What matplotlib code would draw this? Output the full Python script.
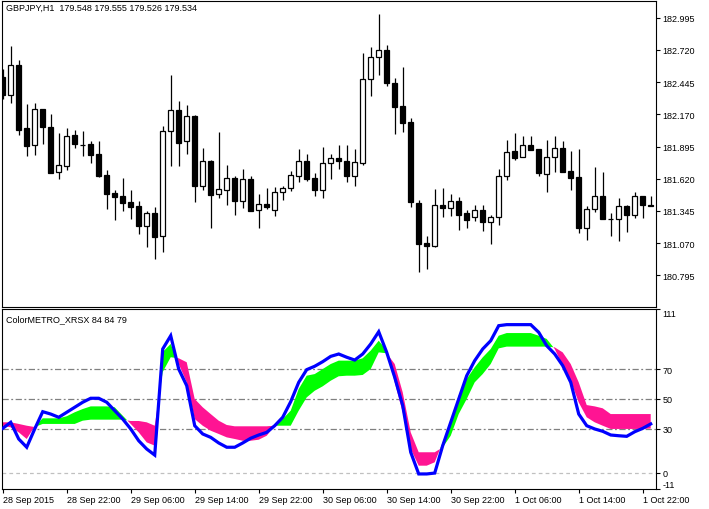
import numpy as np
import matplotlib
matplotlib.use('Agg')
import matplotlib.pyplot as plt

plt.rcParams['font.family'] = ['Liberation Sans', 'DejaVu Sans']

# GBPJPY H1 candles, 28 Sep 14:00 .. 1 Oct 23:00
opens = [182.490, 182.338, 182.590, 182.053, 181.908, 182.216, 182.064, 181.674, 181.731, 181.996,
         181.910, 181.916, 181.831, 181.651, 181.497, 181.474, 181.422, 181.386, 181.217, 181.326,
         181.131, 182.025, 182.207, 181.940, 182.159, 181.559, 181.771, 181.486, 181.525, 181.623,
         181.431, 181.617, 181.349, 181.403, 181.354, 181.503, 181.537, 181.645, 181.768, 181.625,
         181.525, 181.751, 181.797, 181.768, 181.640, 181.754, 182.470, 182.659, 182.718, 182.436,
         182.239, 182.102, 181.409, 181.069, 181.046, 181.394, 181.366, 181.428, 181.326, 181.289,
         181.351, 181.246, 181.289, 181.640, 181.854, 181.803, 181.910, 181.874, 181.657, 181.803,
         181.880, 181.683, 181.631, 181.195, 181.357, 181.469, 181.274, 181.280, 181.383, 181.311,
         181.474, 181.394]
highs = [182.558, 182.755, 182.635, 182.259, 182.267, 182.216, 182.173, 182.011, 182.056, 182.036,
         182.028, 181.942, 181.942, 181.694, 181.523, 181.625, 181.523, 181.428, 181.345, 181.377,
         182.073, 182.507, 182.285, 182.250, 182.165, 181.880, 181.782, 182.019, 181.737, 181.645,
         181.702, 181.640, 181.488, 181.540, 181.546, 181.559, 181.685, 181.874, 181.831, 181.668,
         181.891, 181.831, 181.908, 181.908, 181.874, 182.695, 182.744, 183.029, 182.764, 182.479,
         182.573, 182.136, 181.440, 181.131, 181.531, 181.537, 181.488, 181.465, 181.351, 181.397,
         181.394, 181.309, 181.702, 181.951, 182.008, 181.987, 181.987, 181.874, 181.951, 181.987,
         181.940, 181.859, 181.874, 181.383, 181.717, 181.674, 181.326, 181.452, 181.392, 181.508,
         181.474, 181.469]
lows = [182.302, 182.270, 181.996, 181.816, 181.822, 181.916, 181.668, 181.617, 181.696, 181.880,
        181.811, 181.754, 181.634, 181.360, 181.268, 181.343, 181.274, 181.146, 181.037, 180.932,
        180.994, 181.731, 181.731, 181.831, 181.417, 181.525, 181.197, 181.454, 181.397, 181.311,
        181.369, 181.343, 181.195, 181.360, 181.303, 181.440, 181.512, 181.594, 181.602, 181.474,
        181.454, 181.617, 181.702, 181.594, 181.559, 181.737, 182.330, 182.507, 182.415, 182.005,
        182.022, 181.380, 180.823, 180.846, 181.037, 181.294, 181.303, 181.183, 181.195, 181.260,
        181.174, 181.066, 181.223, 181.611, 181.782, 181.803, 181.865, 181.640, 181.503, 181.674,
        181.674, 181.525, 181.152, 181.097, 181.337, 181.272, 181.131, 181.089, 181.166, 181.286,
        181.286, 181.386]
closes = [182.336, 182.590, 182.039, 181.897, 182.216, 182.064, 181.668, 181.737, 181.987, 181.916,
          181.908, 181.825, 181.645, 181.488, 181.465, 181.411, 181.377, 181.217, 181.326, 181.123,
          182.025, 182.207, 181.928, 182.156, 181.559, 181.771, 181.482, 181.531, 181.623, 181.431,
          181.617, 181.345, 181.400, 181.377, 181.503, 181.537, 181.651, 181.768, 181.617, 181.525,
          181.754, 181.797, 181.773, 181.645, 181.760, 182.473, 182.659, 182.718, 182.436, 182.236,
          182.099, 181.417, 181.066, 181.046, 181.392, 181.366, 181.428, 181.311, 181.268, 181.351,
          181.246, 181.289, 181.640, 181.845, 181.794, 181.910, 181.868, 181.666, 181.803, 181.880,
          181.679, 181.623, 181.195, 181.357, 181.469, 181.272, 181.274, 181.383, 181.311, 181.474,
          181.397, 181.386]

# ColorMETRO_XRSX indicator
xrsx = [30.1, 34.2, 22.9, 17.3, 29.7, 41.4, 39.8, 37.6, 41.0, 44.4,
        47.8, 50.5, 50.5, 47.8, 42.1, 36.4, 29.7, 21.7, 16.1, 12.0,
        83.9, 92.9, 70.3, 59.0, 31.9, 26.3, 24.0, 20.2, 17.3, 17.3,
        20.2, 23.4, 25.6, 27.4, 31.9, 37.6, 48.2, 61.3, 69.9, 72.2,
        75.3, 78.9, 80.5, 78.3, 76.4, 80.5, 87.3, 95.6, 81.6, 64.7,
        45.5, 13.9, -0.8, -0.8, -0.2, 18.4, 34.2, 50.0, 65.8, 76.0,
        83.9, 89.5, 99.7, 100.4, 100.4, 100.4, 100.4, 95.2, 86.1, 80.5,
        72.6, 61.3, 39.8, 31.9, 29.7, 28.1, 25.6, 25.1, 24.7, 27.8,
        30.1, 33.1]
fast = [31.9, 30.8, 27.4, 22.9, 31.5, 36.9, 36.9, 36.9, 38.3, 41.0,
        43.2, 45.0, 45.0, 45.0, 44.4, 38.7, 33.1, 27.4, 20.6, 18.4,
        81.9, 87.3, 73.7, 61.3, 36.4, 31.9, 28.5, 26.3, 24.0, 22.9,
        21.7, 21.7, 22.4, 25.1, 31.8, 36.4, 42.1, 56.8, 65.8, 66.9,
        70.3, 73.7, 76.0, 76.0, 76.0, 77.6, 82.8, 89.5, 83.0, 61.3,
        41.0, 16.1, 4.8, 4.8, 7.1, 20.6, 34.2, 52.3, 63.6, 71.5,
        78.2, 83.9, 92.9, 94.7, 94.7, 94.7, 94.7, 92.9, 90.7, 83.9,
        72.6, 62.4, 47.7, 37.6, 34.2, 31.9, 29.7, 29.7, 29.7, 29.7,
        29.7, 30.0]
slow = [34.2, 34.2, 33.1, 31.9, 31.0, 33.1, 33.1, 33.1, 33.1, 33.1,
        35.3, 36.0, 36.0, 36.0, 36.0, 36.0, 35.1, 35.1, 34.2, 31.9,
        68.3, 78.3, 77.6, 74.9, 50.0, 44.4, 39.8, 35.3, 32.4, 31.5,
        31.5, 31.5, 31.5, 31.5, 31.9, 31.9, 31.9, 42.1, 51.1, 55.6,
        58.6, 62.4, 65.4, 65.8, 65.8, 66.3, 70.3, 81.6, 81.0, 73.7,
        54.5, 27.4, 13.9, 13.9, 13.9, 17.2, 25.1, 39.8, 50.0, 61.3,
        66.9, 73.7, 84.3, 85.5, 85.5, 85.5, 85.5, 85.5, 85.5, 85.0,
        81.6, 73.7, 61.3, 45.9, 45.0, 43.7, 39.8, 39.8, 39.8, 39.8,
        39.8, 39.8]

levels = [70, 50, 30]
price_ticks = [180.795, 181.070, 181.345, 181.620, 181.895, 182.170, 182.445, 182.720, 182.995]
ind_ticks = [111, 70, 50, 30, 0, -11]
time_labels = ['28 Sep 2015', '28 Sep 22:00', '29 Sep 06:00', '29 Sep 14:00', '29 Sep 22:00',
               '30 Sep 06:00', '30 Sep 14:00', '30 Sep 22:00', '1 Oct 06:00', '1 Oct 14:00',
               '1 Oct 22:00']

W, H = 709, 510
fig = plt.figure(figsize=(W / 100, H / 100), dpi=100)
ax1 = fig.add_axes([2 / W, 1 - 308 / H, 654 / W, 306 / H])
ax2 = fig.add_axes([2 / W, 1 - 490 / H, 654 / W, 180 / H])

x = np.arange(len(opens))
o = np.array(opens)
c = np.array(closes)
hi = np.array(highs)
lo = np.array(lows)
up = c >= o

# candles
ax1.vlines(x, lo, hi, color='black', lw=0.9, zorder=1)
body_lo = np.minimum(o, c)
body_h = np.abs(c - o)
ax1.bar(x[up], body_h[up], bottom=body_lo[up], width=0.58, color='white',
        edgecolor='black', lw=0.9, zorder=2)
ax1.bar(x[~up], body_h[~up], bottom=body_lo[~up], width=0.58, color='black',
        edgecolor='black', lw=0.9, zorder=2)

ax1.set_xlim(-0.09, 81.66)
ax1.set_ylim(180.524, 183.138)
ax1.set_xticks([])
ax1.yaxis.tick_right()
ax1.set_yticks(price_ticks)
ax1.set_yticklabels([f'{p:.3f}' for p in price_ticks])

# indicator
f = np.array(fast)
s = np.array(slow)
ax2.fill_between(x, f, s, where=f >= s, interpolate=True, color='#00FF00', lw=0, zorder=2)
ax2.fill_between(x, f, s, where=f <= s, interpolate=True, color='#FF1493', lw=0, zorder=2)
for lv in levels:
    ax2.axhline(lv, color='#808080', lw=0.9, dashes=(5, 2, 1.5, 2), zorder=1)
ax2.axhline(0, color='#C0C0C0', lw=0.9, dashes=(3, 2.5), zorder=1)
ax2.plot(x, xrsx, color='#0000FF', lw=2.3, zorder=3, solid_joinstyle='miter')

ax2.set_xlim(-0.09, 81.66)
ax2.set_ylim(-11, 111)
ax2.yaxis.tick_right()
ax2.set_yticks(ind_ticks)
ax2.set_yticklabels([str(t) for t in ind_ticks])
labs = ax2.get_yticklabels()
labs[0].set_va('top')
labs[-1].set_va('bottom')
ax2.set_xticks(np.arange(0, 81, 8))
ax2.set_xticklabels(time_labels, ha='left')

for ax in (ax1, ax2):
    for sp in ax.spines.values():
        sp.set_color('black')
        sp.set_linewidth(0.8)
    ax.tick_params(axis='y', direction='out', length=3, width=0.8, pad=1.5,
                   labelsize=6.5, colors='black')
ax2.tick_params(axis='x', direction='out', length=3, width=0.8, pad=1,
                labelsize=6.5, colors='black')

fig.text(6 / W, 1 - 8.5 / H, 'GBPJPY,H1  179.548 179.555 179.526 179.534',
         fontsize=6.5, va='center', ha='left')
fig.text(6 / W, 1 - 319.5 / H, 'ColorMETRO_XRSX 84 84 79',
         fontsize=6.5, va='center', ha='left')

fig.savefig('out.png', dpi=100, facecolor='white')
